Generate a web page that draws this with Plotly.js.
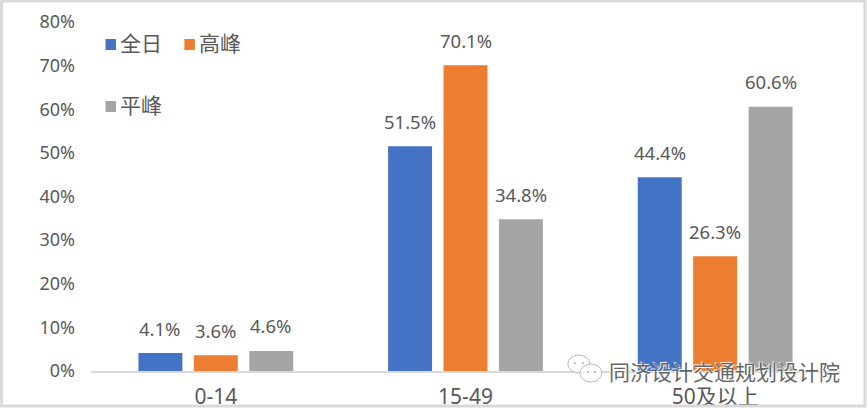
<!DOCTYPE html>
<html><head><meta charset="utf-8">
<script src="https://cdn.plot.ly/plotly-3.0.1.min.js"></script>
<style>html,body{margin:0;padding:0;background:#fff;overflow:hidden}</style>
</head><body><div id="chart" style="width:867px;height:408px"></div>
<script>
const categories = ['0-14', '15-49', '50及以上'];
const allDay = [4.1, 51.5, 44.4];
const peak = [3.6, 70.1, 26.3];
const offPeak = [4.6, 34.8, 60.6];
const seriesNames = ['全日', '高峰', '平峰'];
const seriesColors = ['#4472C4', '#ED7D31', '#A5A5A5'];
const yTicks = [0, 10, 20, 30, 40, 50, 60, 70, 80];
const watermark = '同济设计交通规划设计院';

const W = 867, H = 408, L = 90.5, R = 26.5, T = 22, B = 37;
const px = x => (x - L) / (W - L - R);
const py = y => 1 - (y - T) / (H - T - B);
const FONT = '"Noto Sans", "Noto Sans CJK SC", sans-serif';
const GREY = '#595959';
const allSeries = [allDay, peak, offPeak];

const traces = allSeries.map((vals, i) => ({
  type: 'bar', name: seriesNames[i], x: categories, y: vals,
  marker: {color: seriesColors[i]}, showlegend: false
}));

const SLOT = 55.5;
const labelAnnotations = [];
allSeries.forEach((vals, i) => vals.forEach((v, j) => labelAnnotations.push({
  xref: 'x', yref: 'y', x: categories[j], y: v, xshift: (i - 1) * SLOT, yshift: 25,
  xanchor: 'center', yanchor: 'middle', showarrow: false,
  text: v.toFixed(1) + '%', font: {family: FONT, size: 18.5, color: GREY}
})));

const legendPos = [[105, 44.5], [184, 44.5], [105, 106.5]];
const legendShapes = legendPos.map((p, i) => ({
  type: 'rect', xref: 'paper', yref: 'paper',
  x0: px(p[0]), x1: px(p[0] + 10.5), y0: py(p[1] + 5.5), y1: py(p[1] - 5.5),
  fillcolor: seriesColors[i], line: {width: 0}
}));
const legendLabels = legendPos.map((p, i) => ({
  xref: 'paper', yref: 'paper', x: px(p[0] + 13), y: py(p[1] - 2.5),
  xanchor: 'left', yanchor: 'middle', showarrow: false, text: seriesNames[i],
  font: {family: '"Noto Sans CJK SC", sans-serif', size: 21, color: GREY}
}));

const ell = (x0, x1, y0, y1, color, lw) => ({
  type: 'circle', xref: 'paper', yref: 'paper', layer: 'above',
  x0: px(x0), x1: px(x1), y0: py(y1), y1: py(y0),
  fillcolor: lw ? 'rgba(255,255,255,0.85)' : color, line: {color: color, width: lw}
});

const layout = {
  width: W, height: H, margin: {l: L, r: R, t: T, b: B, pad: 0},
  paper_bgcolor: '#fff', plot_bgcolor: '#fff',
  barmode: 'group', bargap: 0.334, bargroupgap: 0.207,
  showlegend: false,
  font: {family: FONT, color: GREY, size: 18},
  xaxis: {type: 'category', categoryorder: 'array', categoryarray: categories,
    showgrid: false, showline: true, linecolor: '#D9D9D9', linewidth: 2,
    ticks: '', ticklabelstandoff: 6, tickfont: {family: FONT, size: 21, color: GREY}, zeroline: false},
  yaxis: {range: [0, 80], tickvals: yTicks, ticktext: yTicks.map(v => v + '%'),
    showgrid: false, showline: false, zeroline: false, ticks: '',
    ticklabelstandoff: 15, tickfont: {family: FONT, size: 18, color: GREY}},
  shapes: legendShapes.concat([
    {type: 'rect', xref: 'paper', yref: 'paper', x0: px(1), x1: px(865.5), y0: py(406), y1: py(1),
      line: {color: '#D9D9D9', width: 3}, fillcolor: 'rgba(0,0,0,0)', layer: 'above'},
    ell(568, 590, 355, 373, '#BBBBBB', 1),
    ell(580, 602, 364, 382, '#BBBBBB', 1),
    ell(574, 576, 362, 364, '#AAAAAA', 0),
    ell(582, 584, 362, 364, '#AAAAAA', 0),
    ell(587, 589, 371, 373, '#AAAAAA', 0),
    ell(594, 596, 371, 373, '#AAAAAA', 0)
  ]),
  annotations: labelAnnotations.concat(legendLabels, [{
    xref: 'paper', yref: 'paper', x: px(607.5), y: py(371), xanchor: 'left', yanchor: 'middle',
    showarrow: false, text: watermark,
    font: {family: '"Noto Sans CJK SC", sans-serif', size: 21, color: '#666',
      shadow: '1px 1px 1px #fff, -1px -1px 1px #fff'}
  }])
};
Plotly.newPlot('chart', traces, layout, {displayModeBar: false, staticPlot: true});
</script></body></html>
